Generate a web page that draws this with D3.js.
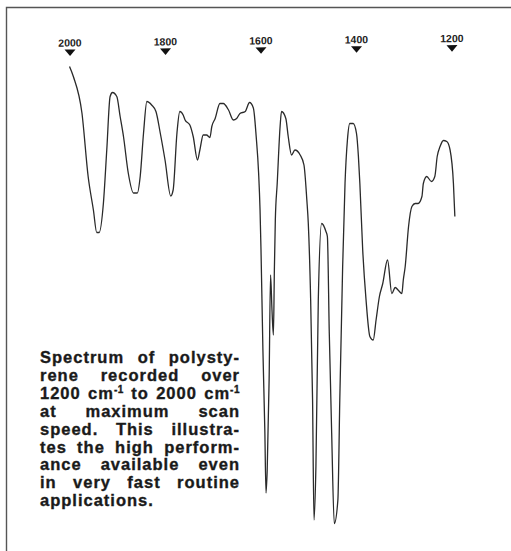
<!DOCTYPE html>
<html>
<head>
<meta charset="utf-8">
<script src="https://cdn.jsdelivr.net/npm/d3@7"></script>
<style>
  html, body { margin: 0; padding: 0; background: #fff; }
  svg { display: block; }
</style>
</head>
<body>
<svg id="chart"></svg>
<script>
// wavenumber ticks (cm-1)
var tickValues = [2000, 1800, 1600, 1400, 1200];

// spectrum: wavenumber (cm-1) and transmittance (%)
var wavenumber = [2001, 1993, 1975, 1962, 1951, 1944, 1939, 1930, 1923, 1916,
  1911, 1902, 1895, 1888, 1878, 1867, 1859, 1853, 1846, 1839,
  1829, 1820, 1811, 1801, 1789, 1784, 1776, 1770, 1763, 1759,
  1749, 1742, 1733, 1728, 1721, 1714, 1707, 1703, 1696, 1686,
  1679, 1668, 1658, 1651, 1644, 1633, 1624, 1616, 1610, 1605,
  1602, 1600, 1596, 1592, 1589.5, 1587, 1583, 1580, 1577, 1574,
  1572, 1570, 1566, 1560, 1557, 1548, 1543, 1536, 1529, 1518,
  1510, 1504, 1501, 1496, 1492, 1489, 1485, 1480, 1473, 1464,
  1461, 1457, 1452, 1446.5, 1439, 1435, 1429, 1424, 1419, 1414,
  1407, 1400, 1396, 1393, 1387, 1380, 1372, 1365, 1359, 1352,
  1345, 1335, 1326, 1319, 1312, 1305, 1302, 1298, 1291, 1284,
  1277, 1271, 1263, 1260, 1253, 1243, 1236, 1231, 1225, 1218,
  1211, 1204, 1197, 1194];
var transmittance = [96.7, 94.7, 87.4, 74.7, 68, 63.5, 63.5, 69.4, 80, 90.7,
  91.5, 90.7, 86.7, 82.7, 75.4, 71.4, 71.4, 74.7, 83.4, 89.7,
  89, 87.7, 83.4, 78, 70.8, 72, 83.4, 87.7, 87, 86,
  85, 82.7, 78, 80, 83, 83, 82.5, 84.7, 86.3, 89.3,
  89.3, 88, 86, 86.3, 87.3, 87.7, 89.5, 88.4, 82.6, 75.4,
  68, 60, 40, 24, 11.4, 16, 34, 55, 48, 43,
  56, 66, 73.4, 84.7, 87.7, 86.3, 82.7, 79, 80, 79,
  77, 70, 65.4, 50, 30, 6, 16.7, 50, 65.3, 63.7,
  62.7, 43.4, 23.4, 5.3, 10, 30, 56.7, 73.4, 82, 85.3,
  85.3, 83.3, 78.7, 73.4, 60, 50, 42.7, 42, 46, 50.7,
  53.3, 58, 51.3, 52.5, 51.9, 51.3, 54, 56.7, 64.7, 68.7,
  69.3, 69.3, 70.7, 73.3, 74.7, 73.7, 74.7, 78.7, 80.7, 81.9,
  81.7, 80, 73.3, 66.7];

// caption, justified lines ("^" starts a superscript)
var captionLines = [
  "Spectrum of polysty-",
  "rene recorded over",
  "1200 cm^-1 to 2000 cm^-1",
  "at maximum scan",
  "speed. This illustra-",
  "tes the high perform-",
  "ance available even",
  "in very fast routine",
  "applications."
];

var width = 511, height = 551;

var svg = d3.select('#chart')
    .attr('width', width)
    .attr('height', height);

var x = d3.scaleLinear().domain([2000, 1200]).range([70, 452]);
var y = d3.scaleLinear().domain([0, 100]).range([550, 50]);

// frame (top and left edges only)
svg.append('path')
    .attr('d', 'M6.5,' + height + 'V7.5H' + width)
    .attr('fill', 'none')
    .attr('stroke', '#555')
    .attr('stroke-width', 1.4);

// tick marks: labels with down-pointing triangles, slightly tilted as in the scan
var ticks = svg.append('g')
    .attr('transform', 'rotate(-0.65,70,50)')
  .selectAll('g')
    .data(tickValues)
    .enter().append('g')
    .attr('transform', function(d) { return 'translate(' + x(d) + ',0)'; });

ticks.append('text')
    .attr('y', 46.5)
    .attr('text-anchor', 'middle')
    .attr('font-family', 'Liberation Sans, Arial, sans-serif')
    .attr('font-weight', 'bold')
    .attr('font-size', 10.5)
    .attr('fill', '#222')
    .text(function(d) { return d; });

ticks.append('path')
    .attr('d', 'M-5.5,49.5L5.5,49.5L0,56Z')
    .attr('fill', '#111');

// the spectrum trace
var points = wavenumber.map(function(w, i) { return {w: w, t: transmittance[i]}; });

var trace = d3.line()
    .x(function(d) { return x(d.w); })
    .y(function(d) { return y(d.t); })
    .curve(d3.curveMonotoneX);

svg.append('path')
    .datum(points)
    .attr('d', trace)
    .attr('fill', 'none')
    .attr('stroke', '#2a2a2a')
    .attr('stroke-width', 1.3)
    .attr('stroke-linejoin', 'round');

// caption block, justified between left and right
var capLeft = 40, capRight = 240, capTop = 363, capStep = 17.9;
var caption = svg.append('g')
    .attr('font-family', 'Liberation Sans, Arial, sans-serif')
    .attr('font-weight', 'bold')
    .attr('font-size', 16.5)
    .attr('letter-spacing', 1.0)
    .attr('fill', '#1a1a1a')
    .attr('stroke', '#1a1a1a')
    .attr('stroke-width', 0.35);

captionLines.forEach(function(line, li) {
  var words = line.split(' ');
  var by = capTop + li * capStep;
  var nodes = words.map(function(wd) {
    var t = caption.append('text').attr('y', by);
    var parts = wd.split('^');
    t.append('tspan').text(parts[0]);
    if (parts.length > 1) {
      t.append('tspan')
          .attr('font-size', 10)
          .attr('letter-spacing', 0.5)
          .attr('dy', -6)
          .text(parts[1]);
    }
    return t;
  });
  var widths = nodes.map(function(t) { return t.node().getComputedTextLength(); });
  var total = d3.sum(widths);
  var last = li === captionLines.length - 1;
  var gap = (!last && words.length > 1) ? (capRight - capLeft - total) / (words.length - 1) : 9;
  var cx = capLeft;
  nodes.forEach(function(t, i) {
    t.attr('x', cx);
    cx += widths[i] + gap;
  });
});
</script>
</body>
</html>
